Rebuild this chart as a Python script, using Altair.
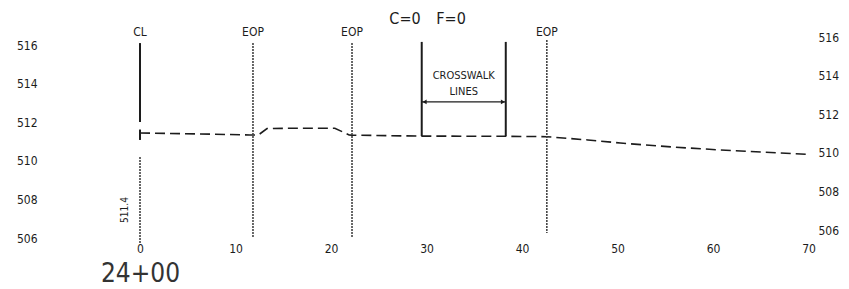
import altair as alt
import pandas as pd

# ---- data ----
# ground profile (offset from centerline in ft, elevation in ft)
station = [0, 6.3, 11.5, 12.4, 13.3, 16.5, 20.4, 21.9, 22.2, 29.3, 38.4, 42.6,
           46.9, 50.3, 55.6, 60.8, 70.0]
elevation = [511.44, 511.39, 511.34, 511.34, 511.67, 511.69, 511.69, 511.34,
             511.33, 511.28, 511.27, 511.25, 511.08, 510.92, 510.72, 510.56, 510.33]

# solid vertical lines: CL (upper part + start tick) and crosswalk lines
solid_x = [0, 0, 29.5, 38.3]
solid_top = [516.10, 511.62, 516.16, 516.16]
solid_bottom = [512.01, 511.08, 511.28, 511.28]

# dotted vertical lines: CL (lower part) and edges of pavement
dotted_x = [0, 11.83, 22.2, 42.6]
dotted_top = [510.20, 516.10, 516.10, 516.26]
dotted_bottom = [505.74, 506.05, 506.05, 506.26]

# line labels
line_label = ["CL", "EOP", "EOP", "EOP"]
line_label_x = [0, 11.83, 22.2, 42.6]
line_label_y = [516.67, 516.67, 516.67, 516.67]

# cut / fill note
note_text = ["C=0", "F=0"]
note_x = [27.75, 32.57]
note_y = [517.35, 517.35]

# crosswalk dimension
cw_text = ["CROSSWALK", "LINES"]
cw_text_x = [33.9, 33.9]
cw_text_y = [514.39, 513.56]
cw_left, cw_right, cw_dim_y = 29.5, 38.3, 513.05

x_ticks = [0, 10, 20, 30, 40, 50, 60, 70]
y_ticks = [506, 508, 510, 512, 514, 516]
station_label = "24+00"

# ---- layout ----
FONT = "DejaVu Sans Condensed, Liberation Sans Narrow, sans-serif"
INK = "#1c1c1c"
X0, X1 = -9.843, 70.785
Y0, Y1 = 506.0, 517.8135
W, H = 770, 228

xscale = alt.Scale(domain=[X0, X1], nice=False, zero=False)
yscale = alt.Scale(domain=[Y0, Y1], nice=False, zero=False)

prof = pd.DataFrame({"x": station, "y": elevation})
solid = pd.DataFrame({"x": solid_x, "y": solid_top, "y2": solid_bottom})
dotted = pd.DataFrame({"x": dotted_x, "y": dotted_top, "y2": dotted_bottom})
lab = pd.DataFrame({"x": line_label_x, "y": line_label_y, "t": line_label})
note = pd.DataFrame({"x": note_x, "y": note_y, "t": note_text})
cwt = pd.DataFrame({"x": cw_text_x, "y": cw_text_y, "t": cw_text})
dim = pd.DataFrame({"x": [cw_left], "x2": [cw_right], "y": [cw_dim_y]})
heads = pd.DataFrame({"x": [cw_left + 0.3, cw_right - 0.3], "y": [cw_dim_y, cw_dim_y],
                      "s": ["triangle-left", "triangle-right"]})
elev_lab = pd.DataFrame({"x": [station[0] - 1.6], "y": [507.45],
                         "t": [f"{elevation[0]:.1f}"]})

x_axis = alt.Axis(values=x_ticks, domain=False, ticks=False, tickSize=0, grid=False,
                  labelPadding=5, labelFont=FONT, labelFontSize=12, labelColor=INK,
                  title=station_label, titleX=94, titleY=43, titleAlign="center",
                  titleBaseline="alphabetic", titleFont=FONT, titleFontSize=26,
                  titleFontWeight="normal", titleColor="#333333")
left_axis = alt.Axis(orient="left", values=y_ticks, domain=False, ticks=False, tickSize=0,
                     grid=False, labelPadding=9, labelFont=FONT, labelFontSize=12,
                     labelColor=INK, title=None)
right_axis = alt.Axis(orient="right", values=y_ticks, domain=False, ticks=False, tickSize=0,
                      grid=False, labelPadding=2, labelOffset=-8, labelFont=FONT,
                      labelFontSize=12, labelColor=INK, title=None)

X = alt.X("x:Q", scale=xscale, axis=x_axis)

profile = alt.Chart(prof).mark_line(color=INK, strokeWidth=1.6, strokeDash=[10, 5]).encode(
    x=X,
    y=alt.Y("y:Q", scale=yscale, axis=left_axis),
)

solid_rules = alt.Chart(solid).mark_rule(color=INK, strokeWidth=2).encode(
    x=X,
    y=alt.Y("y:Q", scale=yscale, axis=right_axis),
    y2="y2:Q",
)

dotted_rules = alt.Chart(dotted).mark_rule(color="#444444", strokeWidth=1.6,
                                           strokeDash=[2, 1]).encode(
    x=X,
    y=alt.Y("y:Q", scale=yscale, axis=None),
    y2="y2:Q",
)

dim_rule = alt.Chart(dim).mark_rule(color=INK, strokeWidth=1.3).encode(
    x=X,
    x2="x2:Q",
    y=alt.Y("y:Q", scale=yscale, axis=None),
)

arrow_heads = alt.Chart(heads).mark_point(filled=True, color=INK, size=22, opacity=1).encode(
    x=X,
    y=alt.Y("y:Q", scale=yscale, axis=None),
    shape=alt.Shape("s:N", scale=None, legend=None),
)

def text_layer(df, size, **kw):
    return alt.Chart(df).mark_text(font=FONT, fontSize=size, color=INK, align="center",
                                   baseline="middle", **kw).encode(
        x=X,
        y=alt.Y("y:Q", scale=yscale, axis=None),
        text="t:N",
    )

labels = text_layer(lab, 12)
notes = text_layer(note, 16)
cw_labels = text_layer(cwt, 11)
elev_label = text_layer(elev_lab, 10, angle=270)

chart = alt.layer(
    profile, solid_rules, dotted_rules, dim_rule, arrow_heads,
    labels, notes, cw_labels, elev_label,
).resolve_scale(y="independent").properties(
    width=W, height=H,
    autosize=alt.AutoSizeParams(type="none"),
    padding={"left": 38, "top": 2, "right": 25, "bottom": 50},
    background="white",
).configure_view(stroke=None)

chart.save("out.html", embed_options={"renderer": "svg", "actions": False})
